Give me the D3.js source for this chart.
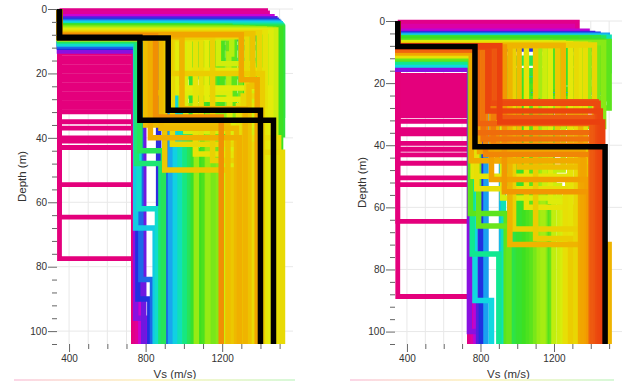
<!DOCTYPE html>
<html>
<head>
<meta charset="utf-8">
<script src="https://cdn.jsdelivr.net/npm/d3@7/dist/d3.min.js"></script>
<style>
  body { margin: 0; background: #fff; }
  svg { display: block; font-family: 'Liberation Sans', Arial, sans-serif; }
  .axis .tick text { fill: #333; font-size: 10px; }
  .axis .tick line { stroke: #666; }
  .axis-title { fill: #333; font-size: 11.5px; }
  .grid line { stroke: #e8e8e8; stroke-width: 1; }
</style>
</head>
<body>
<div id="chart"></div>
<script>
// ---- data ----------------------------------------------------------------
// each profile: [misfit, vs1, h1, vs2, h2, vs3]  (h = depth of layer bottom, m; vs in m/s)
const profilesLeft = [
    [0.99, 350, 0.6, 1425, 4.0, 748],
    [0.98, 350, 1.3, 1435, 4.8, 760],
    [0.93, 350, 2.4, 1460, 5.6, 775],
    [0.86, 350, 3.0, 1475, 6.6, 790],
    [0.81, 350, 3.5, 1482, 7.6, 868],
    [0.77, 350, 3.9, 1490, 9.2, 905],
    [0.71, 350, 4.2, 1496, 12.0, 930],
    [0.65, 350, 4.6, 1503, 16.0, 955],
    [0.60, 350, 5.0, 1508, 21.0, 980],
    [0.55, 350, 5.3, 1512, 27.0, 1005],
    [0.52, 350, 5.6, 1515, 33.0, 1030],
    [0.51, 350, 5.2, 1010, 13.0, 1045],
    [0.50, 350, 5.9, 1515, 39.0, 1060],
    [0.50, 350, 5.55, 1180, 35.0, 1095],
    [0.50, 350, 5.4, 1070, 20.0, 1110],
    [0.49, 350, 5.45, 1040, 36.0, 1100],
    [0.49, 350, 5.35, 1240, 28.0, 1050],
    [0.48, 350, 6.1, 1505, 44.0, 1085],
    [0.48, 350, 5.5, 1130, 26.0, 1135],
    [0.48, 350, 5.75, 1300, 44.0, 1075],
    [0.47, 350, 5.65, 1100, 42.0, 1140],
    [0.47, 350, 5.7, 1200, 30.0, 1155],
    [0.47, 350, 5.9, 1350, 38.0, 1105],
    [0.47, 350, 6.0, 1410, 42.0, 1145],
    [0.46, 350, 5.75, 1160, 38.0, 1130],
    [0.46, 350, 5.8, 1265, 34.0, 1175],
    [0.46, 350, 6.15, 1470, 36.0, 1165],
    [0.45, 350, 5.85, 1230, 45.0, 1170],
    [0.45, 350, 6.0, 1330, 37.0, 1120],
    [0.44, 350, 5.95, 1295, 40.0, 1150],
    [0.44, 350, 6.2, 1390, 41.0, 1160],
    [0.43, 350, 6.05, 1360, 43.0, 1190],
    [0.43, 350, 6.3, 1450, 46.0, 1180],
    [0.42, 350, 6.15, 1420, 33.0, 1125],
    [0.42, 350, 6.25, 985, 30.0, 1065],
    [0.36, 350, 6.5, 1480, 40.0, 1215],
    [0.33, 350, 6.8, 1455, 36.0, 1260],
    [0.30, 350, 7.1, 1425, 30.0, 1285],
    [0.27, 350, 7.4, 1395, 27.0, 1310],
    [0.23, 350, 7.7, 1360, 24.0, 1340],
    [0.17, 350, 8.0, 1300, 22.0, 1383],
    [0.88, 350, 13.0, 748, 96.0, 800],
    [0.80, 350, 11.9, 760, 90.0, 822],
    [0.76, 350, 11.5, 775, 84.0, 836],
    [0.66, 350, 10.9, 748, 68.0, 850],
    [0.62, 350, 10.6, 765, 62.0, 862],
    [0.54, 350, 9.9, 752, 48.0, 880],
    [0.52, 350, 9.6, 770, 44.0, 893],
    [0.40, 350, 9.0, 1250, 14.0, 1235],
    [0.35, 350, 8.9, 1180, 17.0, 1360],
    [0.34, 350, 8.8, 1010, 38.0, 1245],
    [0.33, 350, 8.75, 812, 26.0, 1240],
    [0.32, 350, 9.1, 960, 24.5, 1450],
    [0.32, 350, 9.0, 1120, 28.0, 1300],
    [0.31, 350, 8.7, 1030, 19.0, 1425],
    [0.30, 350, 8.7, 1060, 45.0, 1350],
    [0.29, 350, 9.2, 1090, 40.0, 1495],
    [0.28, 350, 8.6, 1330, 44.5, 1515],
    [0.28, 350, 9.1, 940, 42.0, 1370],
    [0.26, 350, 8.8, 1150, 47.0, 1335],
    [0.25, 350, 8.9, 930, 20.0, 1410],
    [0.24, 350, 8.5, 900, 50.0, 1250],
    [0.22, 350, 8.4, 800, 36.0, 1230],
    [0.21, 350, 9.0, 880, 37.0, 1275],
    [0.20, 350, 8.6, 990, 31.0, 1320],
    [0.19, 350, 8.7, 825, 40.0, 1290],
    [0.14, 350, 8.3, 852, 33.5, 1195]
];
// worst profiles: one soft layer (350 m/s) down to these depths, then 740 m/s
const softDepthsLeft = [9.5, 10.9, 12.3, 13.7, 15.1, 16.5, 17.9, 19.3, 20.7, 22.1, 23.5, 24.9,
    26.3, 27.7, 29.1, 30.5, 31.9, 35, 37, 40, 41, 43, 54.5, 64.6, 77.5];
const bestLeft = [
    [350, 8.8, 770, 34.5, 1468],
    [350, 9.0, 918, 31.4, 1400]
];

const profilesRight = [
    [0.99, 350, 0.5, 1325, 3.2, 745],
    [0.97, 350, 1.8, 1300, 4.6, 760],
    [0.92, 350, 3.3, 1380, 5.6, 775],
    [0.84, 350, 4.0, 1410, 6.5, 790],
    [0.80, 350, 4.3, 1440, 9.0, 805],
    [0.72, 350, 4.6, 1490, 23.0, 830],
    [0.68, 350, 4.9, 1480, 18.0, 915],
    [0.60, 350, 5.2, 1500, 16.0, 925],
    [0.52, 350, 5.5, 1470, 12.0, 960],
    [0.51, 350, 5.8, 1420, 13.5, 980],
    [0.50, 350, 6.1, 1350, 16.0, 1000],
    [0.50, 350, 5.4, 1440, 17.0, 1030],
    [0.49, 350, 6.0, 1380, 20.0, 1010],
    [0.49, 350, 5.7, 1390, 22.0, 1050],
    [0.49, 350, 6.3, 1280, 19.0, 1020],
    [0.48, 350, 6.5, 1460, 22.0, 1040],
    [0.48, 350, 5.9, 1320, 24.0, 1090],
    [0.48, 350, 6.2, 1250, 28.0, 1130],
    [0.47, 350, 6.7, 1200, 21.0, 1060],
    [0.47, 350, 6.4, 1180, 20.0, 1170],
    [0.47, 350, 6.6, 1240, 26.0, 1070],
    [0.46, 350, 6.9, 1490, 25.0, 1080],
    [0.46, 350, 6.6, 1500, 28.0, 1185],
    [0.45, 350, 6.8, 1160, 30.0, 1110],
    [0.45, 350, 7.2, 1360, 33.0, 1190],
    [0.44, 350, 7.1, 1440, 27.0, 1100],
    [0.43, 350, 7.0, 1470, 34.0, 1150],
    [0.42, 350, 7.3, 1390, 28.0, 1120],
    [0.41, 350, 7.5, 1120, 24.0, 1140],
    [0.30, 350, 7.7, 1340, 30.0, 1285],
    [0.20, 350, 7.9, 1250, 32.0, 1345],
    [0.88, 350, 15.5, 740, 100.0, 790],
    [0.64, 350, 14.2, 770, 90.0, 860],
    [0.56, 350, 13.2, 755, 75.0, 900],
    [0.46, 350, 12.2, 745, 62.0, 940],
    [0.45, 350, 11.8, 790, 66.0, 955],
    [0.30, 350, 11.2, 760, 50.0, 1275],
    [0.29, 350, 10.8, 780, 54.0, 1262],
    [0.18, 350, 10.3, 750, 45.0, 1345],
    [0.17, 350, 10.0, 795, 42.0, 1358],
    [0.10, 350, 9.4, 770, 36.0, 1420],
    [0.09, 350, 9.0, 785, 33.0, 1405],
    [0.38, 350, 7.0, 1250, 48.0, 1200],
    [0.36, 350, 7.2, 1150, 53.0, 1230],
    [0.34, 350, 8.4, 920, 57.0, 1250],
    [0.33, 350, 7.1, 1180, 58.0, 1265],
    [0.31, 350, 7.3, 1290, 66.0, 1310],
    [0.30, 350, 7.4, 1050, 60.0, 1300],
    [0.29, 350, 7.5, 1370, 62.0, 1340],
    [0.28, 350, 7.6, 1320, 64.0, 1330],
    [0.27, 350, 7.7, 1420, 52.0, 1320],
    [0.26, 350, 8.0, 980, 67.0, 1355],
    [0.25, 350, 7.8, 1100, 70.0, 1290],
    [0.24, 350, 7.9, 1220, 42.0, 1370],
    [0.22, 350, 7.95, 1010, 47.0, 1395],
    [0.20, 350, 8.1, 960, 72.0, 1500],
    [0.18, 350, 8.3, 890, 45.0, 1365],
    [0.16, 350, 8.2, 860, 51.0, 1380],
    [0.15, 350, 8.4, 930, 55.0, 1390],
    [0.13, 350, 8.5, 828, 43.0, 1408],
    [0.12, 350, 8.1, 870, 40.0, 1400],
    [0.11, 350, 8.6, 815, 38.0, 1425],
    [0.08, 350, 8.2, 900, 31.0, 1412],
    [0.07, 350, 8.2, 880, 26.0, 1430],
    [0.05, 350, 8.4, 850, 26.5, 1440],
    [0.04, 350, 8.3, 840, 29.0, 1452],
    [0.03, 350, 8.0, 905, 32.5, 1465]
];
const softDepthsRight = [17.5, 18.8, 20.1, 21.4, 22.7, 24.0, 25.3, 26.6, 27.9, 29.2, 30.5, 32.3,
    35.0, 36.3, 39.4, 41.3, 43.1, 45.8, 50.5, 52.7, 64.5, 88.7];
const bestRight = [
    [350, 8.2, 770, 40.5, 1478]
];

const softVs = [350, 740];
const depthLabels = [0, 20, 40, 60, 80, 100];
const vsLabels = [400, 800, 1200];

// ---- chart ---------------------------------------------------------------
const maxDepth = 104;
const misfitStops = [0, 0.08, 0.16, 0.24, 0.32, 0.40, 0.48, 0.56, 0.64, 0.72, 0.80, 0.88, 0.94, 1.0];
const misfitColors = ['#e8300c', '#ee5a10', '#f2a000', '#ecc800', '#e4ec0a', '#b5ee10', '#3de021',
    '#10e890', '#10d8e0', '#1aa0f0', '#2030e0', '#8a10e0', '#d400d0', '#e4007c'];
const color = d3.scaleLinear().domain(misfitStops).range(misfitColors);

const svg = d3.select('#chart').append('svg')
    .attr('width', 635)
    .attr('height', 381);

const panels = [
    { left: 57, right: 293, top: 9, bottom: 344, vs: [337, 1570],
      profiles: profilesLeft, soft: softDepthsLeft, best: bestLeft, titleX: 22 },
    { left: 395, right: 622, top: 21, bottom: 344, vs: [335, 1570],
      profiles: profilesRight, soft: softDepthsRight, best: bestRight, titleX: 362 }
];

function stepPoints(p) {
    // p = [vs1, h1, vs2, h2, vs3]
    return [[p[0], 0], [p[0], p[1]], [p[2], p[1]], [p[2], p[3]], [p[4], p[3]], [p[4], maxDepth]];
}

panels.forEach(function (o) {
    let x = d3.scaleLinear().domain(o.vs).range([o.left, o.right]);
    let y = d3.scaleLinear().domain([0, maxDepth]).range([o.top, o.bottom]);

    let line = d3.line()
        .x(d => x(d[0]))
        .y(d => y(d[1]));

    // grid
    let grid = svg.append('g').attr('class', 'grid');
    grid.selectAll('.gx')
        .data(d3.range(400, 1600, 100))
        .enter().append('line')
        .attr('x1', d => x(d)).attr('x2', d => x(d))
        .attr('y1', o.top).attr('y2', o.bottom);
    grid.selectAll('.gy')
        .data(d3.range(0, maxDepth + 1, 20))
        .enter().append('line')
        .attr('x1', o.left).attr('x2', o.right)
        .attr('y1', d => y(d)).attr('y2', d => y(d));

    let g = svg.append('g').attr('class', 'profiles');

    // worst (soft top layer) first
    g.selectAll('.soft')
        .data(o.soft)
        .enter().append('path')
        .attr('class', 'soft')
        .attr('d', h => line([[softVs[0], 0], [softVs[0], h], [softVs[1], h], [softVs[1], maxDepth]]))
        .attr('fill', 'none')
        .attr('stroke', color(1))
        .attr('stroke-width', 4.8)
        .attr('stroke-linejoin', 'miter');

    // then by misfit, best on top
    let sorted = o.profiles.slice().sort((a, b) => b[0] - a[0]);
    g.selectAll('.prof')
        .data(sorted)
        .enter().append('path')
        .attr('class', 'prof')
        .attr('d', d => line(stepPoints(d.slice(1))))
        .attr('fill', 'none')
        .attr('stroke', d => color(d[0]))
        .attr('stroke-width', 5.5)
        .attr('stroke-linejoin', 'miter');

    g.selectAll('.best')
        .data(o.best)
        .enter().append('path')
        .attr('class', 'best')
        .attr('d', d => line(stepPoints(d)))
        .attr('fill', 'none')
        .attr('stroke', '#000')
        .attr('stroke-width', 5.5)
        .attr('stroke-linejoin', 'miter');

    // axes
    let yAxis = d3.axisLeft(y)
        .tickValues(d3.range(0, maxDepth + 1, 4))
        .tickSize(5)
        .tickPadding(5)
        .tickFormat(d => depthLabels.includes(d) ? d : '');
    let ya = svg.append('g')
        .attr('class', 'axis')
        .attr('transform', `translate(${o.left},0)`)
        .call(yAxis);
    ya.select('.domain').remove();
    ya.selectAll('.tick line').filter(d => depthLabels.includes(d)).attr('x2', -9);

    let xAxis = d3.axisBottom(x)
        .tickValues(d3.range(400, 1600, 100))
        .tickSize(5)
        .tickPadding(6)
        .tickFormat(d => vsLabels.includes(d) ? d : '');
    let xa = svg.append('g')
        .attr('class', 'axis')
        .attr('transform', `translate(0,${o.bottom})`)
        .call(xAxis);
    xa.select('.domain').remove();
    xa.selectAll('.tick line').filter(d => vsLabels.includes(d)).attr('y2', 8);

    svg.append('text')
        .attr('class', 'axis-title')
        .attr('text-anchor', 'middle')
        .attr('x', (o.left + o.right) / 2)
        .attr('y', 378)
        .text('Vs (m/s)');

    svg.append('text')
        .attr('class', 'axis-title')
        .attr('text-anchor', 'middle')
        .attr('transform', `translate(${o.titleX + 4},${(o.top + o.bottom) / 2}) rotate(-90)`)
        .text('Depth (m)');
});

// faint top edge of the colour scale below each panel
let grad = svg.append('defs').append('linearGradient').attr('id', 'pale');
['#fbd6e6', '#fdf7c8', '#d8f8d8'].forEach((c, i) => {
    grad.append('stop').attr('offset', i / 2).attr('stop-color', c);
});
svg.append('rect').attr('x', 14).attr('y', 379).attr('width', 281).attr('height', 2).attr('fill', 'url(#pale)');
svg.append('rect').attr('x', 350).attr('y', 379).attr('width', 264).attr('height', 2).attr('fill', 'url(#pale)');
</script>
</body>
</html>
